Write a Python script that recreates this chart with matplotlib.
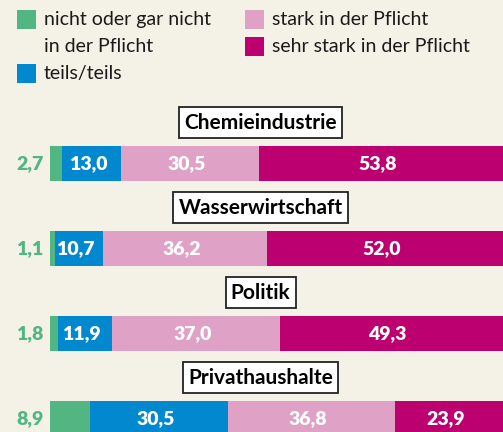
import matplotlib
matplotlib.use("Agg")
import matplotlib.pyplot as plt
from matplotlib.patches import Rectangle

plt.rcParams['font.family'] = ['Lato', 'DejaVu Sans']

categories = ["Chemieindustrie", "Wasserwirtschaft", "Politik", "Privathaushalte"]
nicht = [2.7, 1.1, 1.8, 8.9]
teils = [13.0, 10.7, 11.9, 30.5]
stark = [30.5, 36.2, 37.0, 36.8]
sehr = [53.8, 52.0, 49.3, 23.9]

series_labels = ["nicht oder gar nicht\nin der Pflicht", "teils/teils",
                 "stark in der Pflicht", "sehr stark in der Pflicht"]
colors = ["#52b683", "#0288cf", "#e0a1c6", "#bc006f"]
bg = "#f4f1e6"

W, H = 503, 432
fig = plt.figure(figsize=(W / 100, H / 100), dpi=100, facecolor=bg)

# bar area: one row step = 85 px, first bar centre at 163.5 px from top
step = 85.0
y0 = 163.5
ax = fig.add_axes([50 / W, 0, 1 - 50 / W, 1])
ax.set_facecolor(bg)
ax.set_xlim(0, 100)
ax.set_ylim((H - y0) / step, -y0 / step)
ax.axis("off")

ypos = list(range(len(categories)))
series = [nicht, teils, stark, sehr]
left = [0.0] * len(categories)
bar_h = 35 / step
for vals, col in zip(series, colors):
    ax.barh(ypos, vals, left=left, height=bar_h, color=col, linewidth=0)
    left = [l + v for l, v in zip(left, vals)]

fmt = lambda v: f"{v:.1f}".replace(".", ",")
val_fs = 14
for i in ypos:
    # first segment value sits left of the bar
    ax.text(-1.5, i, fmt(nicht[i]), ha="right", va="center", color=colors[0],
            fontsize=val_fs, fontweight="heavy", clip_on=False)
    start = nicht[i]
    for vals in series[1:]:
        ax.text(start + vals[i] / 2 - 0.8, i, fmt(vals[i]), ha="center", va="center",
                color="white", fontsize=val_fs, fontweight="heavy")
        start += vals[i]
    # category title box above each bar
    ax.text(46.5, i - 0.482, categories[i], ha="center", va="center",
            fontsize=15, fontweight="bold", color="black",
            bbox=dict(boxstyle="square,pad=0.25", facecolor="white",
                      edgecolor="#222222", linewidth=1.3))

# legend
leg_fs = 14
def legend_item(x, y, color, text):
    fig.patches.append(Rectangle((x / W, 1 - (y + 19) / H), 19 / W, 19 / H,
                                 transform=fig.transFigure, facecolor=color,
                                 edgecolor="none"))
    fig.text((x + 27) / W, 1 - (y + 9.5) / H, text, ha="left", va="center",
             fontsize=leg_fs, color="#1a1a1a")

legend_item(17, 10, colors[0], "nicht oder gar nicht")
fig.text(44 / W, 1 - 46.5 / H, "in der Pflicht", ha="left", va="center",
         fontsize=leg_fs, color="#1a1a1a")
legend_item(17, 64, colors[1], series_labels[1])
legend_item(245, 10, colors[2], series_labels[2])
legend_item(245, 37, colors[3], series_labels[3])

fig.savefig("out.png", dpi=100, facecolor=bg)
